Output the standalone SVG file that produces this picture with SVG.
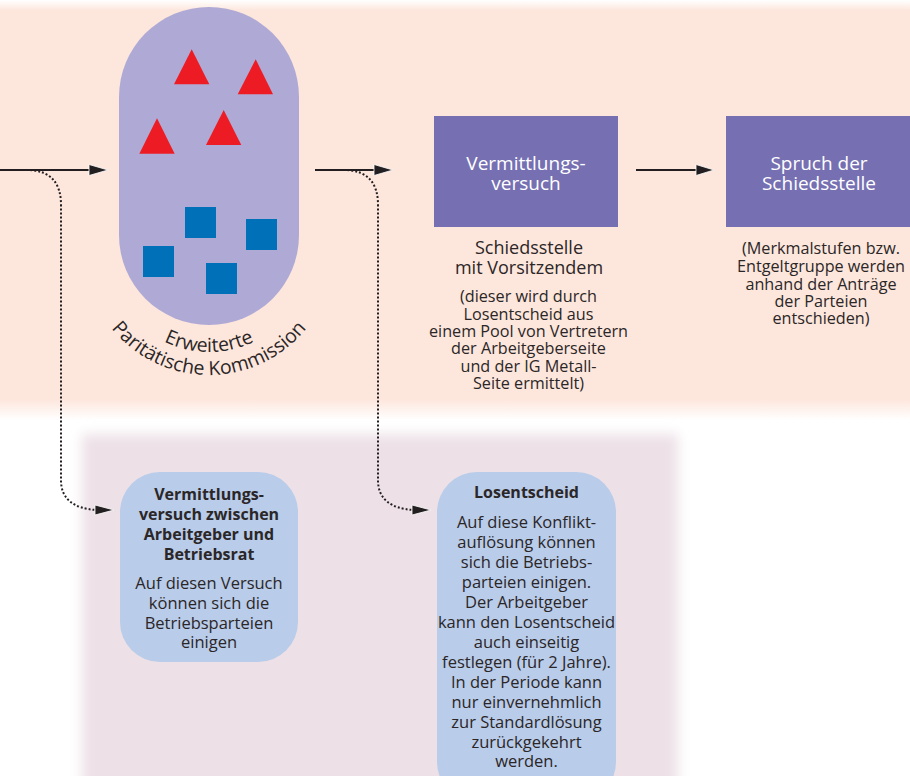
<svg xmlns="http://www.w3.org/2000/svg" width="910" height="776" viewBox="0 0 910 776">
<defs>
<linearGradient id="band" x1="0" y1="0" x2="0" y2="420" gradientUnits="userSpaceOnUse">
<stop offset="0" stop-color="#ffffff"/>
<stop offset="0.025" stop-color="#fde6dc"/>
<stop offset="0.95" stop-color="#fde6dc"/>
<stop offset="1" stop-color="#ffffff"/>
</linearGradient>
<filter id="soft" x="-10%" y="-10%" width="120%" height="120%">
<feGaussianBlur stdDeviation="6"/>
</filter>
<path id="arc1" d="M107,250 A102,102 0 0 0 311,250"/>
<path id="arc2" d="M84,250 A125,125 0 0 0 334,250"/>
</defs>
<style>
text{font-family:"Open Sans","Noto Sans","Liberation Sans",sans-serif;fill:#2b2627;text-anchor:middle}
.w{fill:#ffffff;font-size:19px}
.h{font-size:18px}
.s{font-size:16.2px}
.t{font-size:16.5px}
.b{font-size:16px;font-weight:bold}
.arc{font-size:19.5px}
.tri{fill:#ed1c24}
.sq{fill:#0070b8}
.ln{stroke:#231f20;stroke-width:2;fill:none}
.dot{stroke:#231f20;stroke-width:2;fill:none;stroke-dasharray:2 2}
.head{fill:#231f20;stroke:#ffffff;stroke-width:0.8}
.box{fill:#b9cce9}
.pbox{fill:#7670b2}
</style>
<rect x="0" y="0" width="910" height="420" fill="url(#band)"/>
<rect x="82" y="434" width="596" height="370" fill="#ede1e7" filter="url(#soft)"/>

<g id="kommission">
<rect x="119" y="7" width="180" height="318" rx="90" ry="90" fill="#afaad5"/>
<polygon class="tri" points="191.7,49.3 174,84.3 209.3,84.3"/>
<polygon class="tri" points="255.7,59.3 237.7,94.3 273,94.3"/>
<polygon class="tri" points="157,118.3 139.3,153.7 174.7,153.7"/>
<polygon class="tri" points="223.7,110 206,145 241.3,145"/>
<rect class="sq" x="185" y="207" width="31" height="31"/>
<rect class="sq" x="246" y="219" width="31" height="31"/>
<rect class="sq" x="143" y="246" width="31" height="31"/>
<rect class="sq" x="206" y="263" width="31" height="31"/>
<text class="arc"><textPath href="#arc1" startOffset="50%">Erweiterte</textPath></text>
<text class="arc"><textPath href="#arc2" startOffset="50%">Paritätische Kommission</textPath></text>
</g>

<g id="schiedsstelle">
<rect class="pbox" x="434" y="116" width="184" height="111"/>
<text class="w" x="526" y="170">Vermittlungs-</text>
<text class="w" x="526" y="190">versuch</text>
<text class="h" x="529" y="254">Schiedsstelle</text>
<text class="h" x="529" y="274">mit Vorsitzendem</text>
<text class="s" x="528.5" y="302">(dieser wird durch</text>
<text class="s" x="528.5" y="320">Losentscheid aus</text>
<text class="s" x="528.5" y="337">einem Pool von Vertretern</text>
<text class="s" x="528.5" y="354">der Arbeitgeberseite</text>
<text class="s" x="528.5" y="372">und der IG Metall-</text>
<text class="s" x="528.5" y="389">Seite ermittelt)</text>
</g>

<g id="spruch">
<rect class="pbox" x="726" y="116" width="190" height="111"/>
<text class="w" x="819" y="170">Spruch der</text>
<text class="w" x="819" y="190">Schiedsstelle</text>
<text class="s" x="821" y="254">(Merkmalstufen bzw.</text>
<text class="s" x="821" y="272">Entgeltgruppe werden</text>
<text class="s" x="821" y="290">anhand der Anträge</text>
<text class="s" x="821" y="307">der Parteien</text>
<text class="s" x="821" y="324">entschieden)</text>
</g>

<g id="vermittlung-betrieb">
<rect class="box" x="120" y="472" width="178" height="190" rx="40" ry="40"/>
<text class="b" x="209" y="500">Vermittlungs-</text>
<text class="b" x="209" y="520">versuch zwischen</text>
<text class="b" x="209" y="540">Arbeitgeber und</text>
<text class="b" x="209" y="560">Betriebsrat</text>
<text class="t" x="209" y="589">Auf diesen Versuch</text>
<text class="t" x="209" y="609">können sich die</text>
<text class="t" x="209" y="629">Betriebsparteien</text>
<text class="t" x="209" y="648">einigen</text>
</g>

<g id="losentscheid">
<rect class="box" x="437" y="472" width="179" height="330" rx="40" ry="40"/>
<text class="b" x="526.5" y="498">Losentscheid</text>
<text class="t" x="526.5" y="528">Auf diese Konflikt-</text>
<text class="t" x="526.5" y="548">auflösung können</text>
<text class="t" x="526.5" y="568">sich die Betriebs-</text>
<text class="t" x="526.5" y="588">parteien einigen.</text>
<text class="t" x="526.5" y="608">Der Arbeitgeber</text>
<text class="t" x="526.5" y="628">kann den Losentscheid</text>
<text class="t" x="526.5" y="648">auch einseitig</text>
<text class="t" x="526.5" y="668">festlegen (für 2 Jahre).</text>
<text class="t" x="526.5" y="688">In der Periode kann</text>
<text class="t" x="526.5" y="708">nur einvernehmlich</text>
<text class="t" x="526.5" y="728">zur Standardlösung</text>
<text class="t" x="526.5" y="748">zurückgekehrt</text>
<text class="t" x="526.5" y="767">werden.</text>
</g>

<g id="connectors">
<path class="dot" d="M30,170 Q61,172 61,205 L61,480 Q61,508 97,510"/>
<polygon class="head" points="95,505 114,510 95,515"/>
<path class="dot" d="M347,170 Q378,172 378,205 L378,480 Q378,508 414,510"/>
<polygon class="head" points="412,505 431,510 412,515"/>
<line class="ln" x1="0" y1="170" x2="92" y2="170"/>
<polygon class="head" points="89,164.5 108,170 89,175.5"/>
<line class="ln" x1="315" y1="170" x2="377" y2="170"/>
<polygon class="head" points="374,164.5 393,170 374,175.5"/>
<line class="ln" x1="636" y1="170" x2="699" y2="170"/>
<polygon class="head" points="696,164.5 714,170 696,175.5"/>
</g>
</svg>
